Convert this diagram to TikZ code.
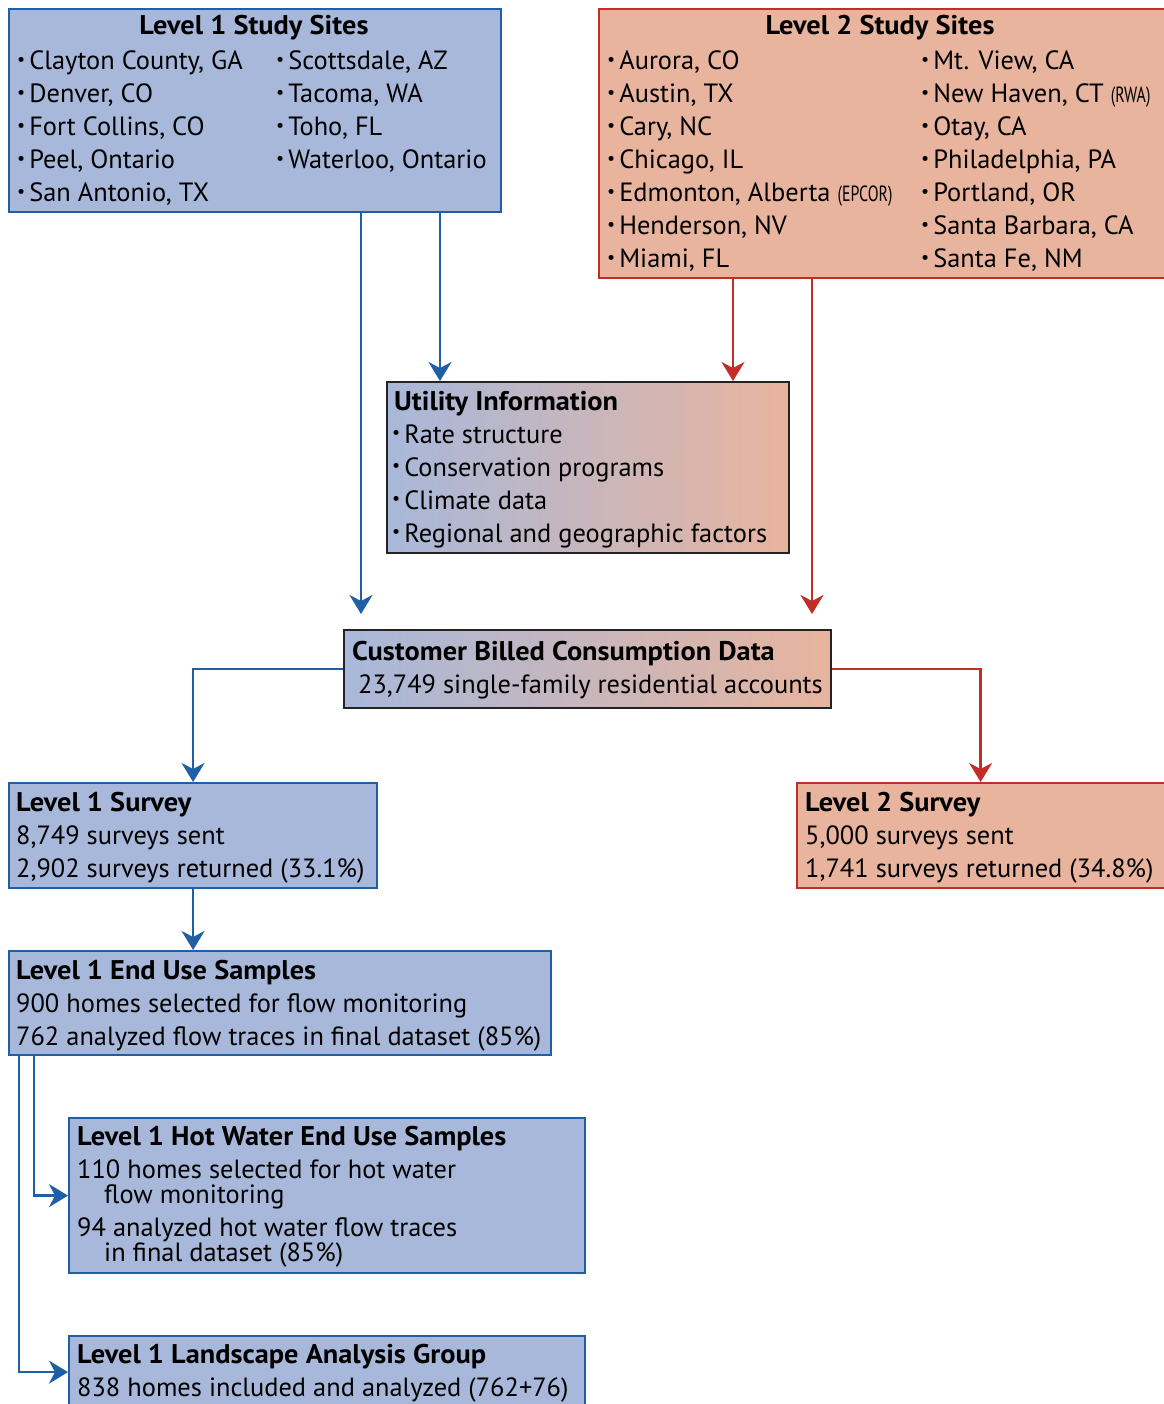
\documentclass[tikz,border=0pt]{standalone}
\usepackage{fontspec}
\setmainfont{PT Sans}
\usetikzlibrary{arrows.meta,calc}

\definecolor{boxblue}{RGB}{168,184,218}
\definecolor{lineblue}{RGB}{30,95,165}
\definecolor{boxred}{RGB}{232,180,158}
\definecolor{linered}{RGB}{195,45,40}
\definecolor{edgedark}{RGB}{35,35,35}

\newcommand{\dotitem}{\raisebox{0.16em}{\fontsize{18}{18}\selectfont\textbullet}\hspace{4pt}}
\newcommand{\smallcond}[1]{{\fontsize{22}{22}\selectfont\addfontfeature{FakeStretch=0.72}#1}}

\tikzset{
  blueBox/.style={draw=lineblue, fill=boxblue, line width=2.2pt, anchor=north west, inner sep=0pt},
  redBox/.style={draw=linered, fill=boxred, line width=2.2pt, anchor=north west, inner sep=0pt},
  mixBox/.style={draw=edgedark, left color=boxblue, right color=boxred, line width=2.4pt, anchor=north west, inner sep=0pt},
  blueArrow/.style={draw=lineblue, line width=2.4pt, -{Stealth[length=19pt,width=23pt,inset=6pt]}},
  redArrow/.style={draw=linered, line width=2.4pt, -{Stealth[length=19pt,width=23pt,inset=6pt]}},
  txt/.style={anchor=base west, inner sep=0pt, font=\fontsize{26.4}{33}\selectfont},
  hdr/.style={anchor=base west, inner sep=0pt, font=\fontsize{27}{33}\selectfont\bfseries\addfontfeature{FakeStretch=1.05}}
}

\begin{document}
\begin{tikzpicture}[x=1pt, y=-1pt]
	\useasboundingbox (0,0) rectangle (1163,1404);

	% Level 1 study sites
	\node[blueBox, minimum width=492pt, minimum height=203pt] (sitesOne) at (8,8) {};
	\node[hdr, anchor=base] (sitesOneTitle) at (254,35) {Level 1 Study Sites};
	\node[txt] (s1a) at (17,70) {\dotitem Clayton County, GA};
	\node[txt] (s1b) at (17,103) {\dotitem Denver, CO};
	\node[txt] (s1c) at (17,136) {\dotitem Fort Collins, CO};
	\node[txt] (s1d) at (17,169) {\dotitem Peel, Ontario};
	\node[txt] (s1e) at (17,202) {\dotitem San Antonio, TX};
	\node[txt] (s1f) at (276,70) {\dotitem Scottsdale, AZ};
	\node[txt] (s1g) at (276,103) {\dotitem Tacoma, WA};
	\node[txt] (s1h) at (276,136) {\dotitem Toho, FL};
	\node[txt] (s1i) at (276,169) {\dotitem Waterloo, Ontario};

	% Level 2 study sites
	\node[redBox, minimum width=570pt, minimum height=269pt] (sitesTwo) at (598,8) {};
	\node[hdr, anchor=base] (sitesTwoTitle) at (880,35) {Level 2 Study Sites};
	\node[txt] (s2a) at (607,70) {\dotitem Aurora, CO};
	\node[txt] (s2b) at (607,103) {\dotitem Austin, TX};
	\node[txt] (s2c) at (607,136) {\dotitem Cary, NC};
	\node[txt] (s2d) at (607,169) {\dotitem Chicago, IL};
	\node[txt] (s2e) at (607,202) {\dotitem Edmonton, Alberta \smallcond{(EPCOR)}};
	\node[txt] (s2f) at (607,235) {\dotitem Henderson, NV};
	\node[txt] (s2g) at (607,268) {\dotitem Miami, FL};
	\node[txt] (s2h) at (921,70) {\dotitem Mt. View, CA};
	\node[txt] (s2i) at (921,103) {\dotitem New Haven, CT \smallcond{(RWA)}};
	\node[txt] (s2j) at (921,136) {\dotitem Otay, CA};
	\node[txt] (s2k) at (921,169) {\dotitem Philadelphia, PA};
	\node[txt] (s2l) at (921,202) {\dotitem Portland, OR};
	\node[txt] (s2m) at (921,235) {\dotitem Santa Barbara, CA};
	\node[txt] (s2n) at (921,268) {\dotitem Santa Fe, NM};

	% Utility information
	\node[mixBox, minimum width=402pt, minimum height=171pt] (utility) at (386,381) {};
	\node[hdr] (utilTitle) at (394,410) {Utility Information};
	\node[txt] (u1) at (392,443) {\dotitem Rate structure};
	\node[txt] (u2) at (392,476) {\dotitem Conservation programs};
	\node[txt] (u3) at (392,509) {\dotitem Climate data};
	\node[txt] (u4) at (392,542) {\dotitem Regional and geographic factors};

	% Customer billed consumption data
	\node[mixBox, minimum width=487pt, minimum height=78pt] (billing) at (343,629) {};
	\node[hdr] (billTitle) at (352,660) {Customer Billed Consumption Data};
	\node[txt] (bill1) at (358,693) {23,749 single-family residential accounts};

	% Surveys
	\node[blueBox, minimum width=368pt, minimum height=105pt] (surveyOne) at (8,782) {};
	\node[hdr] (svOneTitle) at (16,811) {Level 1 Survey};
	\node[txt] (sv1a) at (16,844) {8,749 surveys sent};
	\node[txt] (sv1b) at (16,877) {2,902 surveys returned (33.1\%)};

	\node[redBox, minimum width=368pt, minimum height=105pt] (surveyTwo) at (796,782) {};
	\node[hdr] (svTwoTitle) at (805,811) {Level 2 Survey};
	\node[txt] (sv2a) at (805,844) {5,000 surveys sent};
	\node[txt] (sv2b) at (805,877) {1,741 surveys returned (34.8\%)};

	% End use samples
	\node[blueBox, minimum width=542pt, minimum height=104pt] (endUse) at (8,950) {};
	\node[hdr] (endTitle) at (16,979) {Level 1 End Use Samples};
	\node[txt] (end1) at (16,1012) {900 homes selected for flow monitoring};
	\node[txt] (end2) at (16,1045) {762 analyzed flow traces in final dataset (85\%)};

	\node[blueBox, minimum width=516pt, minimum height=155pt] (hotWater) at (68,1117) {};
	\node[hdr] (hotTitle) at (77,1145) {Level 1 Hot Water End Use Samples};
	\node[txt] (hot1) at (77,1178) {110 homes selected for hot water};
	\node[txt] (hot2) at (104,1203) {flow monitoring};
	\node[txt] (hot3) at (77,1236) {94 analyzed hot water flow traces};
	\node[txt] (hot4) at (104,1261) {in final dataset (85\%)};

	\node[blueBox, minimum width=516pt, minimum height=72pt] (landscape) at (68,1335) {};
	\node[hdr] (landTitle) at (77,1363) {Level 1 Landscape Analysis Group};
	\node[txt] (land1) at (77,1396) {838 homes included and analyzed (762+76)};

	% Connectors
	\draw[blueArrow] ([xshift=353pt]sitesOne.south west) -- ([xshift=18pt,yshift=15pt]billing.north west);
	\draw[blueArrow] ([xshift=432pt]sitesOne.south west) -- ([xshift=54pt]utility.north west);
	\draw[redArrow] ([xshift=135pt]sitesTwo.south west) -- ([xshift=347pt]utility.north west);
	\draw[redArrow] ([xshift=214pt]sitesTwo.south west) -- ([xshift=469pt,yshift=15pt]billing.north west);
	\draw[blueArrow] (billing.west) -| (surveyOne.north);
	\draw[redArrow] (billing.east) -| ([xshift=-0.5pt]surveyTwo.north);
	\draw[blueArrow] (surveyOne.south) -- (surveyOne.south |- endUse.north);
	\draw[blueArrow] ([xshift=26pt]endUse.south west) |- (hotWater.west);
	\draw[blueArrow] ([xshift=11pt]endUse.south west) |- (landscape.west);

\end{tikzpicture}
\end{document}
